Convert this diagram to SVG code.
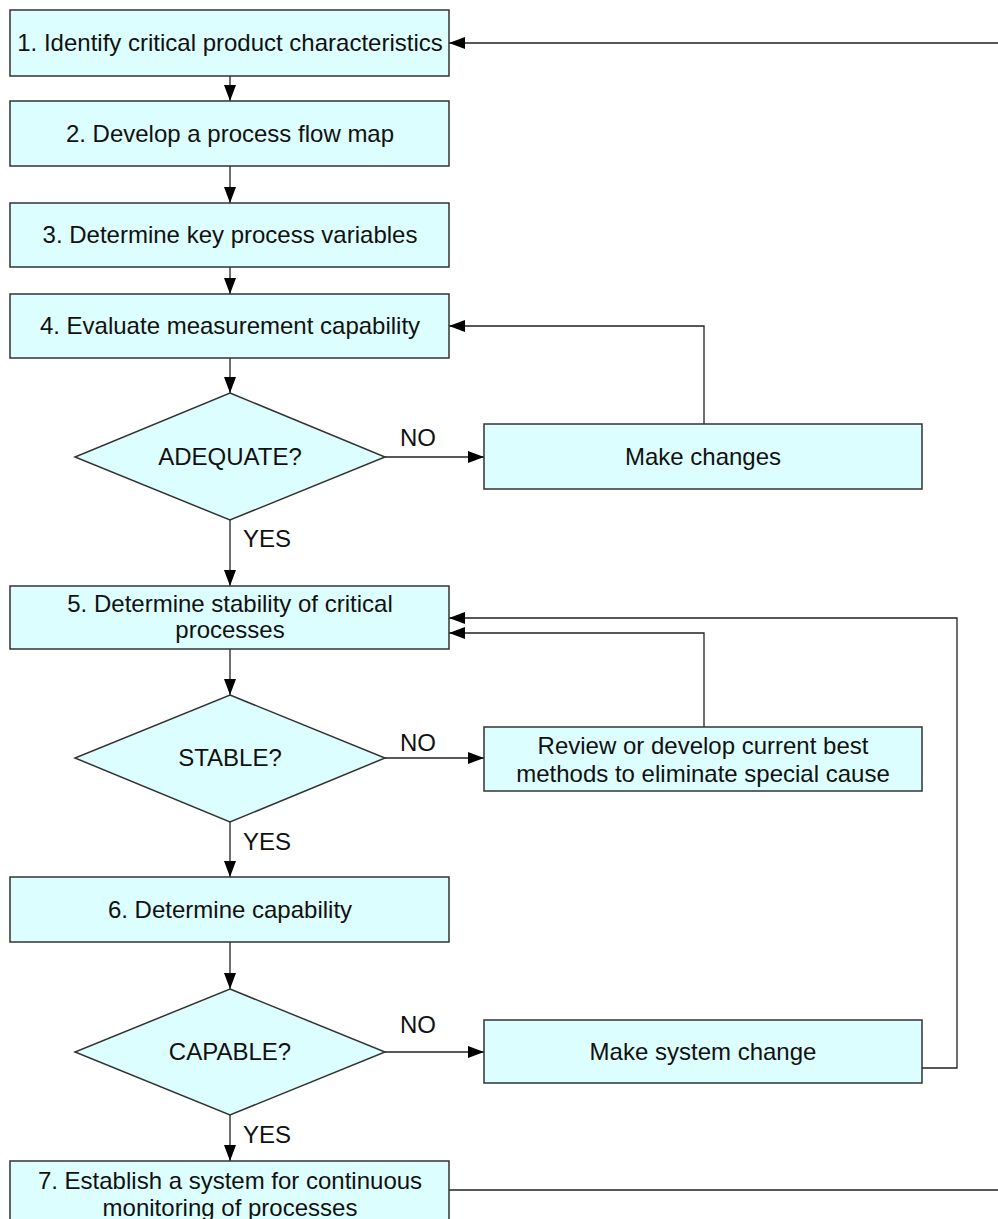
<svg xmlns="http://www.w3.org/2000/svg" width="998" height="1219" viewBox="0 0 998 1219">
<defs>
<style>
.box{fill:#dcfefe;stroke:#333;stroke-width:1.5}
.t{font-family:"Liberation Sans",Arial,sans-serif;font-size:24px;fill:#111;text-anchor:middle}
.c{fill:none;stroke:#222;stroke-width:1.3}
</style>
<marker id="ah" viewBox="0 0 16 12" refX="16" refY="6" markerWidth="16" markerHeight="12" markerUnits="userSpaceOnUse" orient="auto">
<path d="M0,0 L16,6 L0,12 Z" fill="#000"/>
</marker>
</defs>
<rect width="998" height="1219" fill="#fff"/>
<g id="connectors">
<line class="c" x1="230" y1="76" x2="230" y2="101" marker-end="url(#ah)"/>
<line class="c" x1="230" y1="166" x2="230" y2="203" marker-end="url(#ah)"/>
<line class="c" x1="230" y1="267" x2="230" y2="294" marker-end="url(#ah)"/>
<line class="c" x1="230" y1="358" x2="230" y2="393" marker-end="url(#ah)"/>
<line class="c" x1="385" y1="457" x2="484" y2="457" marker-end="url(#ah)"/>
<polyline class="c" points="704,424 704,326 449,326" marker-end="url(#ah)"/>
<line class="c" x1="230" y1="520" x2="230" y2="586" marker-end="url(#ah)"/>
<line class="c" x1="230" y1="649" x2="230" y2="695" marker-end="url(#ah)"/>
<line class="c" x1="385" y1="758" x2="484" y2="758" marker-end="url(#ah)"/>
<polyline class="c" points="704,727 704,633 449,633" marker-end="url(#ah)"/>
<line class="c" x1="230" y1="822" x2="230" y2="877" marker-end="url(#ah)"/>
<line class="c" x1="230" y1="942" x2="230" y2="989" marker-end="url(#ah)"/>
<line class="c" x1="385" y1="1052" x2="484" y2="1052" marker-end="url(#ah)"/>
<polyline class="c" points="922,1068 957,1068 957,618 449,618" marker-end="url(#ah)"/>
<line class="c" x1="230" y1="1115" x2="230" y2="1161" marker-end="url(#ah)"/>
<polyline class="c" points="449,1190 1010,1190 1010,43 449,43" marker-end="url(#ah)"/>
<text class="t" x="418" y="446">NO</text>
<text class="t" x="267" y="547">YES</text>
<text class="t" x="418" y="751">NO</text>
<text class="t" x="267" y="850">YES</text>
<text class="t" x="418" y="1033">NO</text>
<text class="t" x="267" y="1143">YES</text>
</g>
<g id="n1"><rect class="box" x="10" y="10" width="439" height="66"/><text class="t" x="230" y="51">1. Identify critical product characteristics</text></g>
<g id="n2"><rect class="box" x="10" y="101" width="439" height="65"/><text class="t" x="230" y="142">2. Develop a process flow map</text></g>
<g id="n3"><rect class="box" x="10" y="203" width="439" height="64"/><text class="t" x="230" y="243">3. Determine key process variables</text></g>
<g id="n4"><rect class="box" x="10" y="294" width="439" height="64"/><text class="t" x="230" y="334">4. Evaluate measurement capability</text></g>
<g id="d1"><polygon class="box" points="230,393 385,457 230,520 75,457"/><text class="t" x="230" y="465">ADEQUATE?</text></g>
<g id="m1"><rect class="box" x="484" y="424" width="438" height="65"/><text class="t" x="703" y="465">Make changes</text></g>
<g id="n5"><rect class="box" x="10" y="586" width="439" height="63"/><text class="t" x="230" y="612">5. Determine stability of critical</text><text class="t" x="230" y="638">processes</text></g>
<g id="d2"><polygon class="box" points="230,695 385,758 230,822 75,758"/><text class="t" x="230" y="766">STABLE?</text></g>
<g id="m2"><rect class="box" x="484" y="727" width="438" height="64"/><text class="t" x="703" y="754">Review or develop current best</text><text class="t" x="703" y="782">methods to eliminate special cause</text></g>
<g id="n6"><rect class="box" x="10" y="877" width="439" height="65"/><text class="t" x="230" y="918">6. Determine capability</text></g>
<g id="d3"><polygon class="box" points="230,989 385,1052 230,1115 75,1052"/><text class="t" x="230" y="1060">CAPABLE?</text></g>
<g id="m3"><rect class="box" x="484" y="1020" width="438" height="63"/><text class="t" x="703" y="1060">Make system change</text></g>
<g id="n7"><rect class="box" x="10" y="1161" width="439" height="66"/><text class="t" x="230" y="1189">7. Establish a system for continuous</text><text class="t" x="230" y="1216">monitoring of processes</text></g>
</svg>
